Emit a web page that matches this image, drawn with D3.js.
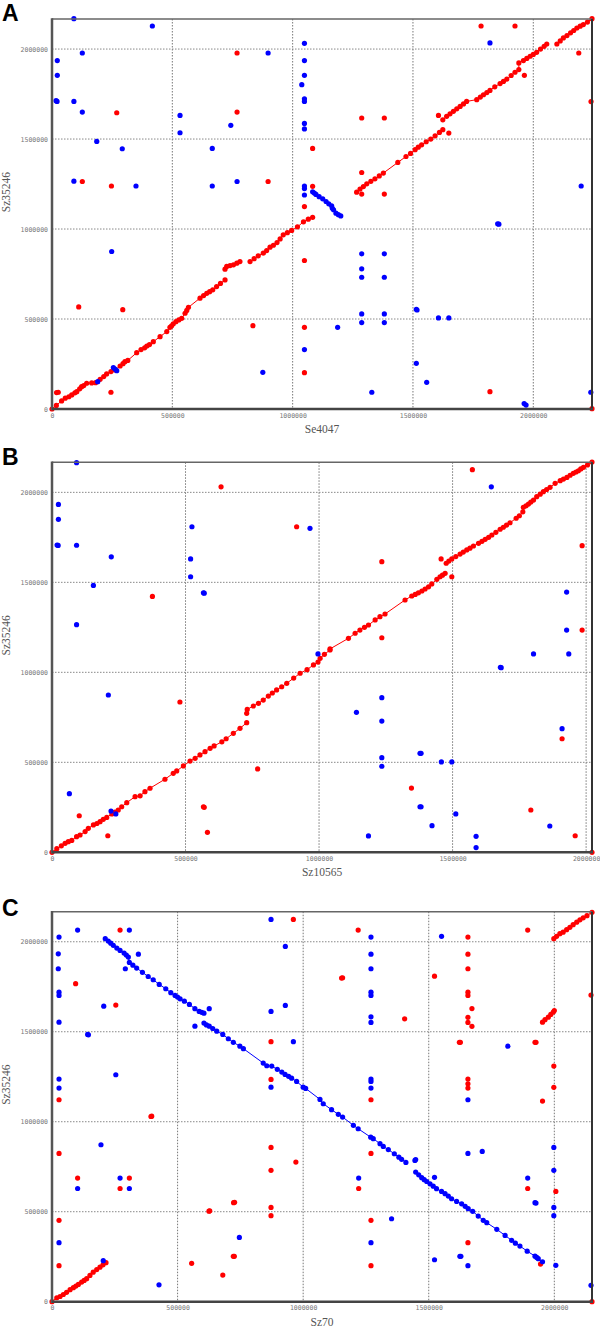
<!DOCTYPE html>
<html><head><meta charset="utf-8">
<script src="https://cdn.jsdelivr.net/npm/d3@7"></script>
<style>body{margin:0;background:#fff}</style>
</head><body>
<svg id="chart" width="600" height="1328"></svg>
<script>
// All positions are in kb (thousands of base pairs); tick labels show bp.
const tickValues = [0, 500, 1000, 1500, 2000];
const tickLabels = ["0", "500000", "1000000", "1500000", "2000000"];
const yTitle = "Sz35246";
const panelLetters = ["A", "B", "C"];
const xTitles = ["Se4047", "Sz10565", "Sz70"];
const xMaxes = [2244, 2022, 2150];
const yMax = 2167;

// ---------- Panel A : Se4047 vs Sz35246 ----------
const aRedSegs = [
  [[0,0],[18,20],[40,45],[55,60],[70,68],[82,78],[95,90],[103,96],[115,112],[123,124],[132,130],[144,143],[165,145],[181,146],[200,165],[215,180],[227,195],[245,208],[262,217],[283,239],[295,252],[303,263],[315,270],[352,313],[370,330],[385,340],[394,350],[405,358],[421,374],[449,402],[477,430],[490,454],[497,462],[504,473],[515,485],[527,495],[539,504],[553,532],[560,548],[567,565],[615,616],[630,630],[643,643],[655,652],[668,662],[684,680],[700,698],[719,717]],
  [[719,777],[726,792],[740,797],[754,801],[768,810],[781,819]],
  [[823,819],[840,835],[857,851],[878,866],[892,880],[906,899],[920,910],[935,925],[948,945],[961,968],[978,980],[996,992],[1020,1012],[1045,1040],[1065,1055],[1083,1065]],
  [[1266,1205],[1280,1222],[1294,1236],[1308,1251],[1325,1265],[1342,1279],[1360,1295],[1377,1311],[1437,1370],[1471,1403],[1490,1420],[1509,1441],[1522,1455],[1536,1468],[1555,1485],[1574,1500],[1592,1518],[1610,1537],[1624,1552]],
  [[1624,1607],[1640,1626],[1654,1640],[1668,1654],[1682,1668],[1696,1681],[1710,1695],[1723,1709],[1765,1719],[1780,1733],[1793,1746],[1807,1758],[1820,1770],[1840,1790],[1862,1808],[1876,1820],[1890,1833],[1908,1853],[1924,1871],[1940,1886],[1940,1923],[1959,1936],[1973,1948],[1987,1960],[2000,1970],[2014,1982],[2030,2000],[2045,2015],[2056,2028]],
  [[2098,2028],[2112,2045],[2125,2062],[2140,2075],[2155,2090],[2168,2103],[2181,2117],[2195,2127],[2208,2136],[2225,2150],[2244,2169]]
];
const aBlueSegs = [
  [[1083,1207],[1090,1200],[1097,1192],[1110,1180],[1125,1168],[1139,1153],[1150,1140],[1162,1129],[1165,1115],[1170,1107],[1180,1088],[1190,1080],[1200,1073]]
];
const aRedDots = [[19,91],[26,93],[245,93],[111,567],[294,552],[835,463],[769,1978],[269,1646],[769,1650],[126,1264],[247,1239],[898,1264],[1287,1617],[1381,1617],[1083,1448],[1083,1237],[1049,1125],[1287,1314],[1287,1194],[1381,1194],[1606,1631],[1649,1533],[1783,2128],[1924,2128],[1963,1854],[2189,1978],[2240,1708],[1049,825],[1049,454],[1049,202],[1820,96],[2244,2]];
const aBlueDots = [[91,2169],[417,2128],[126,1978],[898,1978],[22,1936],[22,1854],[17,1713],[21,1709],[91,1709],[126,1650],[532,1631],[743,1576],[532,1535],[186,1487],[292,1446],[666,1448],[91,1266],[349,1239],[666,1239],[769,1264],[1049,2032],[1049,1936],[1049,1854],[1038,1802],[1049,1724],[1049,1709],[1049,1587],[1049,1556],[1049,1239],[1049,1225],[1049,1189],[1820,2034],[2199,1239],[248,875],[876,204],[190,152],[255,230],[262,222],[269,213],[1852,1029],[1857,1027],[1287,862],[1381,862],[1287,779],[1287,732],[1381,732],[1287,528],[1381,528],[1287,480],[1381,480],[1514,554],[1517,550],[1606,506],[1649,506],[1187,454],[1049,330],[1514,254],[1557,148],[1329,93],[1962,30],[1970,22],[2239,93]];

// ---------- Panel B : Sz10565 vs Sz35246 ----------
const bRedSegs = [
  [[0,0],[18,20],[35,36],[49,50],[61,59],[74,66],[92,87],[105,96],[124,115],[136,133],[155,152],[168,160],[180,170],[192,183],[205,194],[224,213],[236,224],[248,235],[261,253],[280,276],[311,309],[330,314],[348,337],[367,356],[423,406],[454,439],[467,452],[492,480],[517,507],[536,522],[554,541],[573,559],[592,578],[607,591],[636,614],[652,631],[679,661],[704,689],[729,720]],
  [[729,772],[731,794],[754,813],[773,828],[791,846],[810,868],[825,885],[841,902],[860,920],[879,939],[905,968],[929,995],[955,1015],[979,1041],[996,1057],[1004,1078],[1020,1100],[1041,1124],[1041,1130],[1110,1189],[1135,1217],[1153,1235],[1170,1250],[1185,1263],[1210,1291],[1228,1309],[1247,1324],[1322,1402],[1347,1424],[1360,1433],[1372,1442],[1385,1452],[1397,1463],[1410,1475],[1422,1491],[1441,1517],[1453,1531],[1462,1540],[1472,1550]],
  [[1476,1606],[1486,1618],[1497,1630],[1512,1643],[1528,1657],[1540,1668],[1553,1680],[1565,1690],[1578,1702],[1597,1717],[1610,1728],[1622,1739],[1635,1750],[1647,1763],[1662,1778],[1678,1795],[1690,1806],[1702,1818],[1715,1831],[1738,1856],[1750,1870],[1763,1892],[1765,1917],[1775,1925],[1784,1935],[1793,1946],[1803,1957],[1815,1976],[1828,1990],[1840,2004],[1852,2016],[1865,2028],[1884,2050],[1903,2065],[1915,2074],[1928,2083],[1940,2095],[1952,2106],[1962,2113],[1971,2120],[1980,2130],[1990,2139],[2005,2152],[2022,2168]]
];
const bBlueSegs = [];
const bRedDots = [[633,2031],[916,1809],[376,1422],[1574,2126],[1235,1615],[1985,1704],[1985,1235],[1235,1192],[1457,1630],[1497,1531],[479,835],[102,203],[209,92],[567,253],[570,250],[582,111],[770,463],[1910,631],[1346,357],[1793,235],[1959,92],[2022,0]];
const bBlueDots = [[92,2165],[24,1933],[24,1850],[19,1707],[23,1705],[92,1706],[222,1642],[524,1809],[519,1630],[519,1531],[567,1442],[570,1440],[155,1483],[92,1265],[1645,2031],[966,1800],[1927,1446],[1927,1235],[996,1102],[1803,1102],[1935,1102],[211,874],[65,326],[221,229],[239,213],[1679,1028],[1682,1026],[1235,859],[1140,778],[1235,729],[1910,687],[1378,550],[1382,550],[1235,526],[1235,478],[1458,502],[1497,502],[1378,253],[1382,253],[1512,213],[1423,148],[1864,146],[1185,91],[1588,89],[1588,26]];

// ---------- Panel C : Sz70 vs Sz35246 ----------
const cRedSegs = [
  [[0,0],[19,22],[32,29],[45,40],[58,52],[72,67],[85,78],[95,87],[105,96],[118,109],[128,118],[138,128],[151,146],[164,164],[178,178],[191,192],[203,205],[215,217]],
  [[1953,1553],[1963,1567],[1976,1581],[1986,1596],[1996,1609],[2000,1618]],
  [[1998,2017],[2009,2030],[2022,2045],[2035,2053],[2049,2067],[2062,2080],[2075,2095],[2089,2109],[2102,2122],[2115,2133],[2130,2145],[2150,2164]]
];
const cBlueSegs = [
  [[212,2017],[224,2004],[234,1992],[244,1980],[258,1965],[271,1952],[287,1937],[296,1926],[304,1915],[308,1885],[322,1870],[337,1854],[360,1830],[383,1807],[403,1789],[427,1763],[453,1739],[473,1717],[490,1702],[500,1693],[510,1683],[527,1670],[547,1652],[569,1628],[586,1613],[596,1608],[605,1603]],
  [[605,1548],[615,1538],[626,1531],[640,1518],[656,1503],[680,1485],[702,1461],[722,1441],[748,1420],[762,1406],[841,1326],[855,1311],[875,1309],[897,1291],[915,1276],[928,1263],[942,1252],[954,1242],[974,1224],[1000,1192],[1010,1185],[1067,1124],[1080,1100],[1113,1067],[1140,1041],[1157,1026],[1200,980],[1219,961],[1269,914],[1279,906],[1306,878],[1319,863],[1339,845],[1363,822],[1381,803],[1392,791],[1409,774]],
  [[1448,720],[1460,705],[1472,689],[1482,678],[1492,668],[1505,655],[1518,642],[1531,628],[1551,613],[1565,600],[1578,587],[1591,572],[1611,557],[1631,544],[1645,530],[1657,517],[1675,502],[1697,476],[1717,452],[1731,439],[1771,402],[1804,368],[1830,341],[1845,325],[1863,309],[1892,281],[1923,253],[1930,246],[1936,239],[1953,222]]
];
const cRedDots = [[271,2065],[94,1767],[254,1648],[961,2124],[872,1445],[872,1235],[28,1122],[1219,2065],[1153,1798],[1157,1800],[1404,1572],[1656,2026],[1656,1931],[1656,1850],[1656,1720],[1656,1702],[1672,1629],[1656,1580],[1656,1552],[1672,1530],[1523,1809],[1894,2065],[1622,1441],[1626,1441],[1923,1441],[1927,1441],[1998,1309],[1998,1191],[1953,1115],[1270,1122],[1656,1237],[1656,1211],[1656,1187],[2146,1704],[394,1029],[397,1031],[28,824],[102,687],[308,687],[271,629],[28,452],[28,200],[872,857],[872,730],[872,524],[872,478],[971,776],[625,503],[628,505],[723,550],[727,552],[556,213],[722,252],[726,252],[680,148],[1270,824],[1221,629],[1894,629],[2006,613],[1270,452],[1656,328],[1270,200],[1945,209],[2150,0]];
const cBlueDots = [[28,2026],[102,2065],[308,2065],[25,1933],[25,1850],[344,1931],[292,1850],[28,1720],[28,1702],[206,1642],[626,1628],[569,1531],[28,1553],[142,1485],[145,1483],[254,1261],[28,1237],[28,1187],[872,2124],[929,1974],[929,1646],[872,1613],[961,1445],[872,1192],[1270,2026],[1270,1931],[1270,1850],[1270,1720],[1270,1702],[1270,1583],[1270,1552],[1551,2030],[1815,1420],[1270,1237],[1270,1224],[1270,1187],[1656,1122],[195,872],[102,629],[271,687],[308,629],[28,328],[204,228],[426,94],[746,357],[1656,824],[1713,835],[1221,687],[1523,691],[1894,687],[1923,550],[1927,548],[1998,857],[1998,730],[1998,524],[1998,478],[1352,461],[1270,328],[1523,233],[1624,252],[1628,252],[1656,200],[2006,202],[2146,91],[1445,785],[1448,790]];

const panels = [
  {top: 19,    letterDy: 2,   redSegs: aRedSegs, blueSegs: aBlueSegs, redDots: aRedDots, blueDots: aBlueDots},
  {top: 462.3, letterDy: 2.7, redSegs: bRedSegs, blueSegs: bBlueSegs, redDots: bRedDots, blueDots: bBlueDots},
  {top: 911.7, letterDy: 4.3, redSegs: cRedSegs, blueSegs: cBlueSegs, redDots: cRedDots, blueDots: cBlueDots}
];

const RED = "#ff0000", BLUE = "#0000ff";
const left = 52, right = 592, plotH = 390;
const svg = d3.select("#chart");

panels.forEach((p, i) => {
  const top = p.top, bottom = top + plotH;
  const x = d3.scaleLinear().domain([0, xMaxes[i]]).range([left, right]);
  const y = d3.scaleLinear().domain([0, yMax]).range([bottom, top]);
  const g = svg.append("g");

  // grid
  const gridVals = tickValues.filter(v => v > 0);
  g.append("g").selectAll("line").data(gridVals).join("line")
    .attr("x1", d => x(d)).attr("x2", d => x(d)).attr("y1", top).attr("y2", bottom)
    .attr("stroke", "#777").attr("stroke-width", 1).attr("stroke-dasharray", "1.5,1.5");
  g.append("g").selectAll("line").data(gridVals).join("line")
    .attr("y1", d => y(d)).attr("y2", d => y(d)).attr("x1", left).attr("x2", right)
    .attr("stroke", "#888").attr("stroke-width", 1).attr("stroke-dasharray", "1.5,1.5");

  // axes (labels only)
  const xa = g.append("g").attr("transform", `translate(0,${bottom})`)
    .call(d3.axisBottom(x).tickValues(tickValues).tickSize(0).tickPadding(4)
      .tickFormat((d, k) => tickLabels[k]));
  const ya = g.append("g").attr("transform", `translate(${left},0)`)
    .call(d3.axisLeft(y).tickValues(tickValues).tickSize(0).tickPadding(4)
      .tickFormat((d, k) => tickLabels[k]));
  [xa, ya].forEach(a => {
    a.select(".domain").remove();
    a.selectAll("text").attr("font-family", "DejaVu Sans Mono, monospace")
      .attr("font-size", 6.5).attr("fill", "#777");
  });

  const line = d3.line().x(d => x(d[0])).y(d => y(d[1]));
  const drawSegs = (segs, col) => {
    g.append("g").selectAll("path").data(segs).join("path")
      .attr("d", line).attr("fill", "none").attr("stroke", col).attr("stroke-width", 1);
  };
  drawSegs(p.redSegs, RED);
  drawSegs(p.blueSegs, BLUE);

  const drawDots = (pts, col) => {
    g.append("g").selectAll("circle").data(pts).join("circle")
      .attr("cx", d => x(d[0])).attr("cy", d => y(d[1])).attr("r", 2.6).attr("fill", col);
  };
  drawDots(p.redSegs.flat(), RED);
  drawDots(p.redDots, RED);
  drawDots(p.blueSegs.flat(), BLUE);
  drawDots(p.blueDots, BLUE);

  // frame
  g.append("line").attr("x1", left).attr("x2", right).attr("y1", top).attr("y2", top)
    .attr("stroke", "#666").attr("stroke-width", 1.5);
  g.append("line").attr("x1", right).attr("x2", right).attr("y1", top).attr("y2", bottom)
    .attr("stroke", "#333").attr("stroke-width", 2);
  g.append("line").attr("x1", left).attr("x2", left).attr("y1", top - 0.75).attr("y2", bottom + 1.25)
    .attr("stroke", "#555").attr("stroke-width", 2.5);
  g.append("line").attr("x1", left).attr("x2", right + 1).attr("y1", bottom).attr("y2", bottom)
    .attr("stroke", "#444").attr("stroke-width", 2.5);

  // titles
  g.append("text").attr("x", (left + right) / 2).attr("y", bottom + 24)
    .attr("text-anchor", "middle").attr("font-family", "Liberation Serif, Times New Roman, serif")
    .attr("font-size", 11.5).attr("fill", "#555").text(xTitles[i]);
  g.append("text").attr("transform", `translate(10,${top + 173}) rotate(-90)`)
    .attr("text-anchor", "middle").attr("font-family", "Liberation Serif, Times New Roman, serif")
    .attr("font-size", 11.5).attr("fill", "#555").text(yTitle);
  g.append("text").attr("x", 2).attr("y", top + p.letterDy)
    .attr("font-family", "Liberation Sans, Arial, sans-serif").attr("font-weight", "bold")
    .attr("font-size", 23).attr("fill", "#000").text(panelLetters[i]);
});
</script>
</body></html>
